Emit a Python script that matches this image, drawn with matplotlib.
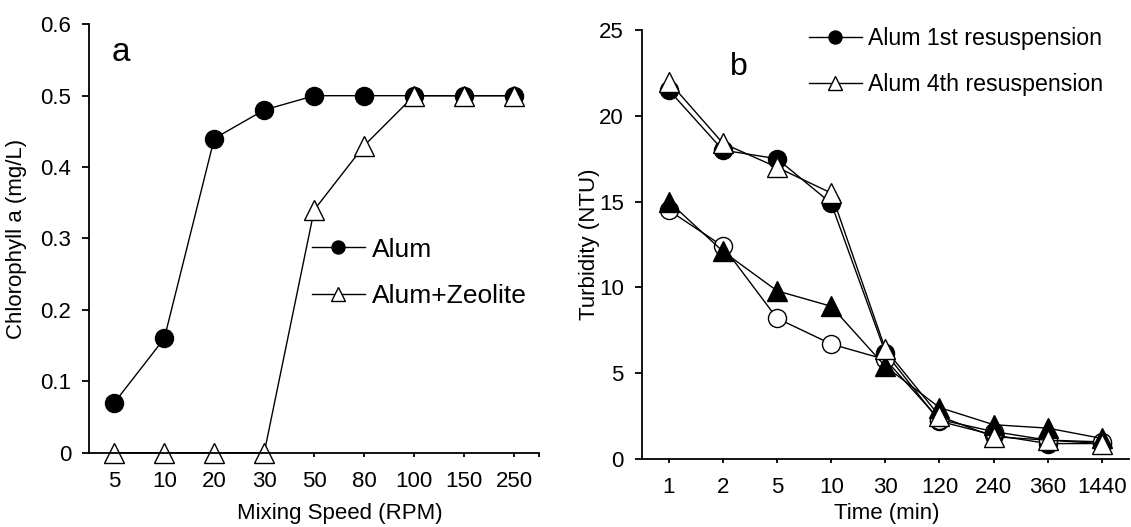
import numpy as np
import matplotlib.pyplot as plt

plt.rcParams['font.family'] = ['Liberation Sans', 'DejaVu Sans']

# panel a: chlorophyll a vs mixing speed
speeds = ['5', '10', '20', '30', '50', '80', '100', '150', '250']
alum = [0.07, 0.16, 0.44, 0.48, 0.50, 0.50, 0.50, 0.50, 0.50]
alum_zeolite = [0.0, 0.0, 0.0, 0.0, 0.34, 0.43, 0.50, 0.50, 0.50]

# panel b: turbidity vs time
times = ['1', '2', '5', '10', '30', '120', '240', '360', '1440']
alum_1st = [21.5, 18.0, 17.5, 14.9, 6.2, 2.2, 1.4, 0.9, 0.9]
alum_4th = [22.0, 18.4, 17.0, 15.5, 6.4, 2.5, 1.3, 1.1, 0.9]
other_1st = [15.0, 12.1, 9.8, 8.9, 5.4, 3.0, 2.0, 1.8, 1.2]
other_4th = [14.5, 12.4, 8.2, 6.7, 5.8, 2.3, 1.6, 1.1, 1.0]

fig = plt.figure(figsize=(11.31, 5.27), dpi=100)
axa = fig.add_axes([0.079, 0.141, 0.3976, 0.8129])
axb = fig.add_axes([0.5674, 0.129, 0.4308, 0.814])

TICK_FS = 16
LABEL_FS = 16


def style(ax):
    for s in ['top', 'right']:
        ax.spines[s].set_visible(False)
    for s in ['left', 'bottom']:
        ax.spines[s].set_linewidth(1.3)
    ax.tick_params(axis='y', direction='out', length=5, width=1.3,
                   pad=8, labelsize=TICK_FS)
    ax.tick_params(axis='x', which='both', direction='out', length=3,
                   width=1.3, pad=10, labelsize=TICK_FS)


line_kw = dict(color='black', lw=1.0, markeredgecolor='black', mew=1.0,
               clip_on=False)

# --- panel a ---
xa = np.arange(len(speeds))
axa.plot(xa, alum, marker='o', ms=13, markerfacecolor='black',
         label='Alum', **line_kw)
axa.plot(xa, alum_zeolite, marker='^', ms=14, markerfacecolor='white',
         label='Alum+Zeolite', **line_kw)
axa.set_xlim(-0.5, 8.5)
axa.set_ylim(0, 0.6)
axa.set_xticks(xa)
axa.set_xticklabels(speeds)
axa.set_xticks([8.5], minor=True)
axa.set_yticks(np.arange(0, 0.61, 0.1))
axa.set_yticklabels(['0', '0.1', '0.2', '0.3', '0.4', '0.5', '0.6'])
style(axa)
axa.set_xlabel('Mixing Speed (RPM)', fontsize=LABEL_FS)
axa.xaxis.set_label_coords(0.558, -0.118)
axa.set_ylabel('Chlorophyll a (mg/L)', fontsize=LABEL_FS)
axa.yaxis.set_label_coords(-0.139, 0.5)
axa.text(0.07, 0.935, 'a', transform=axa.transAxes, fontsize=24,
         ha='center', va='center')
axa.legend(loc='center left', bbox_to_anchor=(0.495, 0.42), frameon=False,
           fontsize=19, borderpad=0, borderaxespad=0, handlelength=2.0,
           handletextpad=0.27, labelspacing=0.85, markerscale=0.72)

# --- panel b ---
xb = np.arange(len(times))
axb.plot(xb, alum_1st, marker='o', ms=13, markerfacecolor='black',
         label='Alum 1st resuspension', **line_kw)
axb.plot(xb, other_4th, marker='o', ms=13, markerfacecolor='white', **line_kw)
axb.plot(xb, other_1st, marker='^', ms=14, markerfacecolor='black', **line_kw)
axb.plot(xb, alum_4th, marker='^', ms=14, markerfacecolor='white',
         label='Alum 4th resuspension', **line_kw)
axb.set_xlim(-0.5, 8.5)
axb.set_ylim(0, 25)
axb.set_xticks(xb)
axb.set_xticklabels(times)
axb.set_yticks(np.arange(0, 26, 5))
style(axb)
axb.set_xlabel('Time (min)', fontsize=LABEL_FS)
axb.xaxis.set_label_coords(0.502, -0.103)
axb.set_ylabel('Turbidity (NTU)', fontsize=LABEL_FS)
axb.yaxis.set_label_coords(-0.086, 0.5)
axb.text(0.2, 0.915, 'b', transform=axb.transAxes, fontsize=23,
         ha='center', va='center')
axb.legend(loc='center left', bbox_to_anchor=(0.344, 0.926), frameon=False,
           fontsize=16.7, borderpad=0, borderaxespad=0, handlelength=2.25,
           handletextpad=0.27, labelspacing=1.0, markerscale=0.72)

fig.savefig('out.png', dpi=100)
